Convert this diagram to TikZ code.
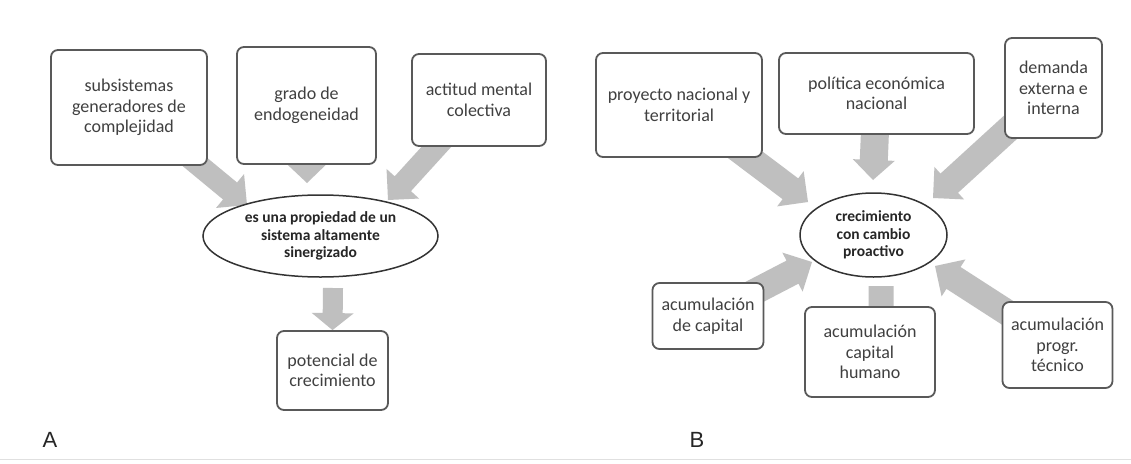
\documentclass[tikz,border=0pt]{standalone}
\usepackage{fontspec}
\setmainfont{Carlito}
\newfontfamily\labelfont{Liberation Sans}
\usetikzlibrary{calc,shapes.geometric,backgrounds}

\definecolor{boxline}{HTML}{595959}
\definecolor{txt}{HTML}{404040}
\definecolor{arrowfill}{HTML}{BFBFBF}

\tikzset{
  box/.style={draw=boxline, line width=1.8pt, rounded corners=7pt, fill=white,
    align=center, inner sep=0pt, text=txt, font=\fontsize{18}{20.5}\selectfont},
  hub/.style={ellipse, draw=black!80, line width=1.5pt, fill=white, align=center,
    inner sep=0pt, text=black!85, font=\bfseries\fontsize{15.5}{17.5}\selectfont},
  panellabel/.style={font=\labelfont\fontsize{22}{26}\selectfont, text=black!85},
}

% Wide block arrow: #1 tail, #2 tip, #3 half shaft width, #4 half head width, #5 head length
\newcommand{\blockarrow}[5]{%
  \path ($(#2)!#5!(#1)$) coordinate (ba-h);
  \fill[arrowfill] ($(#1)!#3!90:(#2)$) -- ($(ba-h)!#3!-90:(#1)$)
    -- ($(ba-h)!#4!-90:(#1)$) -- (#2) -- ($(ba-h)!#4!90:(#1)$)
    -- ($(ba-h)!#3!90:(#1)$) -- ($(#1)!#3!-90:(#2)$) -- cycle;
}

\begin{document}
\begin{tikzpicture}[x=1pt,y=-1pt]
\useasboundingbox (0,0) rectangle (1131,463);

% ---- panel A ----
\node[box, minimum width=156pt, minimum height=115pt] (sub) at (129,107.5) {subsistemas\\generadores de\\complejidad};
\node[box, minimum width=139pt, minimum height=117pt] (gra) at (306.5,105.5) {grado de\\endogeneidad};
\node[box, minimum width=134pt, minimum height=92pt] (act) at (479,100) {actitud mental\\colectiva};
\node[hub, minimum width=235pt, minimum height=82pt] (prop) at (320.5,236) {es una propiedad de un\\sistema altamente\\sinergizado};
\node[box, minimum width=111pt, minimum height=79pt] (pot) at (332.5,370.5) {potencial de\\crecimiento};
\node[panellabel] (la) at (50,440) {A};

\coordinate (subtip) at (247,205);
\coordinate (gratip) at (307,183);
\coordinate (acttip) at (388,200);
\coordinate (propout) at (333,288);

% ---- panel B ----
\node[box, minimum width=166pt, minimum height=104pt] (proy) at (679,105) {proyecto nacional y\\territorial};
\node[box, minimum width=195pt, minimum height=81pt] (pol) at (876.5,93.5) {política económica\\nacional};
\node[box, minimum width=97pt, minimum height=100pt] (dem) at (1053.5,88) {demanda\\externa e\\interna};
\node[hub, minimum width=147pt, minimum height=84pt] (crec) at (873.5,235) {crecimiento\\con cambio\\proactivo};
\node[box, minimum width=111pt, minimum height=66pt] (cap) at (708,316) {acumulación\\de capital};
\node[box, minimum width=130pt, minimum height=90pt] (hum) at (870,352) {acumulación\\capital\\humano};
\node[box, minimum width=110pt, minimum height=86pt] (tec) at (1057.5,345) {acumulación\\progr.\\técnico};
\node[panellabel] (lb) at (697,440) {B};

\coordinate (proytip) at (808,202);
\coordinate (poltip) at (873,180);
\coordinate (demtip) at (933,198);
\coordinate (captip) at (812,262);
\coordinate (tectip) at (935,266);
\coordinate (crecout) at (881,286);
\coordinate (humtip) at (881,330);

\begin{pgfonlayer}{background}
  \fill[white] (0,0) rectangle (1131,463);
  \draw[black!12, line width=1pt] (0,459) -- (1131,459);
  % arrows of panel A
  \blockarrow{sub}{subtip}{11pt}{22pt}{22pt}
  \blockarrow{gra}{gratip}{11pt}{21pt}{20pt}
  \blockarrow{act}{acttip}{11pt}{22pt}{22pt}
  \blockarrow{propout}{pot.north}{10pt}{21pt}{17pt}
  % arrows of panel B
  \blockarrow{proy}{proytip}{13pt}{22pt}{22pt}
  \blockarrow{pol}{poltip}{14pt}{21pt}{20pt}
  \blockarrow{dem}{demtip}{13pt}{22pt}{22pt}
  \blockarrow{cap}{captip}{13pt}{22pt}{22pt}
  \blockarrow{tec}{tectip}{13pt}{22pt}{22pt}
  \blockarrow{crecout}{humtip}{12.5pt}{20pt}{18pt}
\end{pgfonlayer}
\end{tikzpicture}
\end{document}
